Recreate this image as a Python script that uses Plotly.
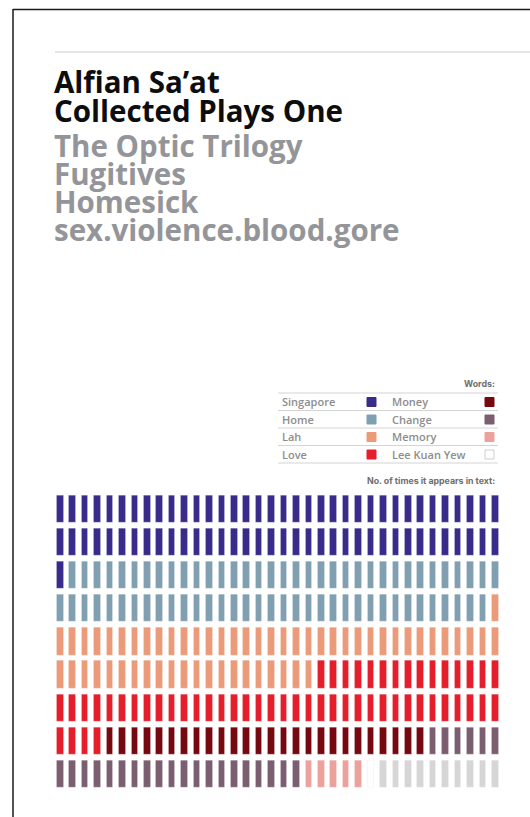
import plotly.graph_objects as go

# ---------------- data ----------------
words = ["Singapore", "Home", "Lah", "Love", "Money", "Change", "Memory", "Lee Kuan Yew"]
counts = [73, 70, 58, 55, 26, 26, 5, 1]
word_colors = ["#382b8a", "#809fb1", "#eb9b79", "#e41e2b", "#760810", "#7b5f71", "#eca19d", "#ffffff"]
grid_cols = 36
grid_rows = 9
filler_color = "#d6d6d6"

title_lines = ["Alfian Sa’at", "Collected Plays One"]
sub_lines = ["The Optic Trilogy", "Fugitives", "Homesick", "sex.violence.blood.gore"]
legend_left = ["Singapore", "Home", "Lah", "Love"]
legend_right = ["Money", "Change", "Memory", "Lee Kuan Yew"]

W, H = 530, 817
def fx(p):
    return p / W
def fy(p):
    return 1 - p / H

fig = go.Figure()

# ---------------- waffle ----------------
bar_h = 0.82
bar_w = 0.53
start = 0
cells = list(zip(words, counts, word_colors))
total = grid_cols * grid_rows
cells.append(("", total - sum(counts), filler_color))
for name, n, col in cells:
    idx = list(range(start, start + n))
    start += n
    xs = [i % grid_cols for i in idx]
    rows = [i // grid_cols for i in idx]
    line_col = "#f4f4f4" if col == "#ffffff" else "rgba(255,255,255,0.35)"
    fig.add_trace(go.Bar(
        x=xs, y=[bar_h] * n, base=[r - bar_h / 2 for r in rows],
        width=bar_w, marker=dict(color=col, line=dict(color=line_col, width=0.6)),
        name=name, showlegend=False, hoverinfo="skip"))

x_left, x_step = 53.8, 12.43
y_top, y_step = 492.5, 33.1
fig.update_xaxes(range=[-0.5, grid_cols - 0.5], visible=False, fixedrange=True,
                 domain=[fx(x_left), fx(x_left + grid_cols * x_step)])
fig.update_yaxes(range=[grid_rows - 0.5, -0.5], visible=False, fixedrange=True,
                 domain=[fy(y_top + grid_rows * y_step), fy(y_top)])

shapes = []
annotations = []

# frame
shapes.append(dict(type="line", xref="paper", yref="paper", x0=fx(13), x1=fx(531), y0=fy(9.5), y1=fy(9.5),
                   line=dict(color="#1a1a1a", width=1.5)))
shapes.append(dict(type="line", xref="paper", yref="paper", x0=fx(13), x1=fx(13), y0=fy(9), y1=fy(818),
                   line=dict(color="#1a1a1a", width=1.5)))
# top rule
shapes.append(dict(type="line", xref="paper", yref="paper", x0=fx(55), x1=fx(531), y0=fy(52), y1=fy(52),
                   line=dict(color="#dddddd", width=1.5)))

# title
tfont = "Open Sans, Noto Sans, sans-serif"
for i, t in enumerate(title_lines):
    annotations.append(dict(text=t, x=fx(52), y=fy(81.5 + 28.5 * i), xref="paper", yref="paper",
                            xanchor="left", yanchor="middle", showarrow=False,
                            font=dict(family=tfont, size=29.5, color="#0d0d0d", weight=700)))
for i, t in enumerate(sub_lines):
    annotations.append(dict(text=t, x=fx(52), y=fy(145 + 28.3 * i), xref="paper", yref="paper",
                            xanchor="left", yanchor="middle", showarrow=False,
                            font=dict(family=tfont, size=29.5, color="#949599", weight=700)))

# legend table
lfont = dict(family=tfont, size=11, color="#8d8d8d", weight=600)
hfont = dict(family="Inter, Lato, sans-serif", size=8.8, color="#6e6e6e", weight=700)
annotations.append(dict(text="Words:", x=fx(497), y=fy(383), xref="paper", yref="paper",
                        xanchor="right", yanchor="middle", showarrow=False, font=hfont))
annotations.append(dict(text="No. of times it appears in text:", x=fx(497), y=fy(480), xref="paper",
                        yref="paper", xanchor="right", yanchor="middle", showarrow=False, font=hfont))
for yl in [393, 410.5, 428, 445.5, 463]:
    shapes.append(dict(type="line", xref="paper", yref="paper", x0=fx(278), x1=fx(498), y0=fy(yl), y1=fy(yl),
                       line=dict(color="#d4d4d4", width=1)))
row_c = [402, 419.5, 437, 454.5]
for i in range(4):
    for lab, lx, sx in [(legend_left[i], 280, 367), (legend_right[i], 390, 485)]:
        annotations.append(dict(text=lab, x=fx(lx), y=fy(row_c[i]), xref="paper", yref="paper",
                                xanchor="left", yanchor="middle", showarrow=False, font=lfont))
        col = word_colors[words.index(lab)]
        shapes.append(dict(type="rect", xref="paper", yref="paper", x0=fx(sx), x1=fx(sx + 9),
                           y0=fy(row_c[i] + 4.5), y1=fy(row_c[i] - 4.5), fillcolor=col,
                           line=dict(color="#cfcfcf" if col == "#ffffff" else col, width=1)))

fig.update_layout(width=W, height=H, margin=dict(l=0, r=0, t=0, b=0), paper_bgcolor="white",
                  plot_bgcolor="white", barmode="overlay", bargap=0, shapes=shapes, annotations=annotations)

fig.write_html("out.html", config={"displayModeBar": False},
               post_script="document.body.style.margin='0';")
